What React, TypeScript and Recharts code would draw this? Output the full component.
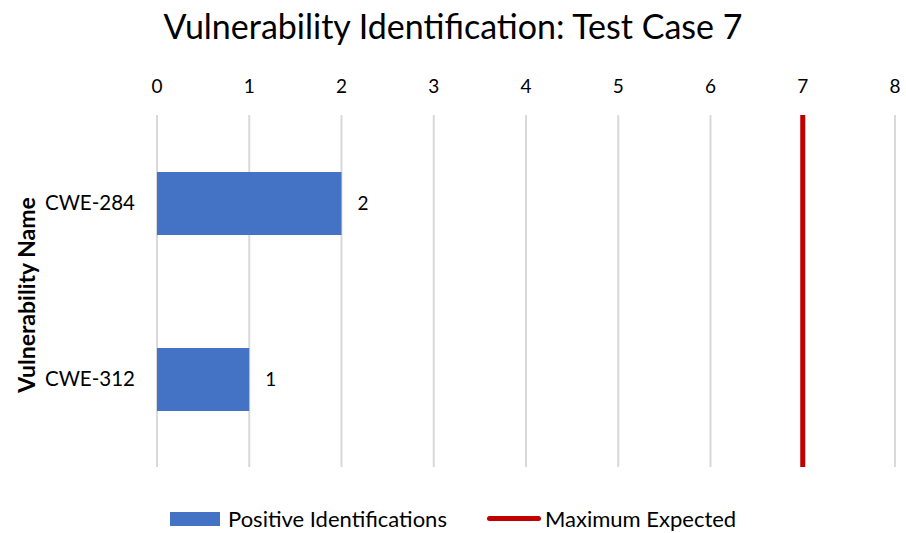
import { BarChart, Bar, XAxis, YAxis, CartesianGrid, ReferenceLine, LabelList } from 'recharts'

const categories = ['CWE-284', 'CWE-312']
const positiveIdentifications = [2, 1]
const maximumExpected = 7
const xTicks = [0, 1, 2, 3, 4, 5, 6, 7, 8]

const data = categories.map((name, i) => ({ name, positive: positiveIdentifications[i] }))

const FONT = 'Lato, "Open Sans", sans-serif'
const BLUE = '#4472c4'
const RED = '#c00000'

function YLabel({ viewBox }: any) {
  const cy = viewBox.y + viewBox.height / 2 + 4
  return (
    <text
      x={26}
      y={cy}
      transform={`rotate(-90, 26, ${cy})`}
      textAnchor="middle"
      dominantBaseline="central"
      fontSize={23}
      fontWeight="bold"
      fontFamily={FONT}
      fill="#000"
    >
      Vulnerability Name
    </text>
  )
}

export default function App() {
  return (
    <div style={{ position: 'absolute', left: 0, top: 0, width: 906, height: 533, background: '#fff', fontFamily: FONT }}>
      <div style={{ position: 'absolute', top: 5, left: 0, width: 906, textAlign: 'center', fontSize: 34, color: '#000' }}>
        Vulnerability Identification: Test Case 7
      </div>

      <BarChart
        width={906}
        height={533}
        data={data}
        layout="vertical"
        margin={{ top: 85, right: 11, bottom: 66, left: 0 }}
        barCategoryGap={56}
      >
        <CartesianGrid horizontal={false} stroke="#d9d9d9" strokeWidth={2} />
        <XAxis
          type="number"
          orientation="top"
          domain={[0, 8]}
          ticks={xTicks}
          height={30}
          tickLine={false}
          axisLine={false}
          tickSize={0}
          tickMargin={22}
          tick={{ fontSize: 19, fill: '#000', fontFamily: FONT }}
        />
        <YAxis
          type="category"
          dataKey="name"
          width={157}
          tickLine={false}
          axisLine={false}
          tickSize={0}
          tickMargin={22}
          tick={{ fontSize: 20.5, fill: '#000', fontFamily: FONT }}
          label={<YLabel />}
        />
        <Bar dataKey="positive" fill={BLUE} barSize={63} isAnimationActive={false}>
          <LabelList dataKey="positive" position="right" offset={16} fill="#000" fontSize={19} fontFamily={FONT} />
        </Bar>
        <ReferenceLine x={maximumExpected} stroke={RED} strokeWidth={5} />
      </BarChart>

      <div style={{ position: 'absolute', top: 505, left: 170, display: 'flex', alignItems: 'center', fontSize: 22, color: '#000' }}>
        <span style={{ display: 'inline-block', width: 50, height: 14, background: BLUE, marginRight: 8 }} />
        <span>Positive Identifications</span>
        <span style={{ display: 'inline-block', width: 54, height: 5, borderRadius: 3, background: RED, marginLeft: 40, marginRight: 4 }} />
        <span>Maximum Expected</span>
      </div>
    </div>
  )
}
